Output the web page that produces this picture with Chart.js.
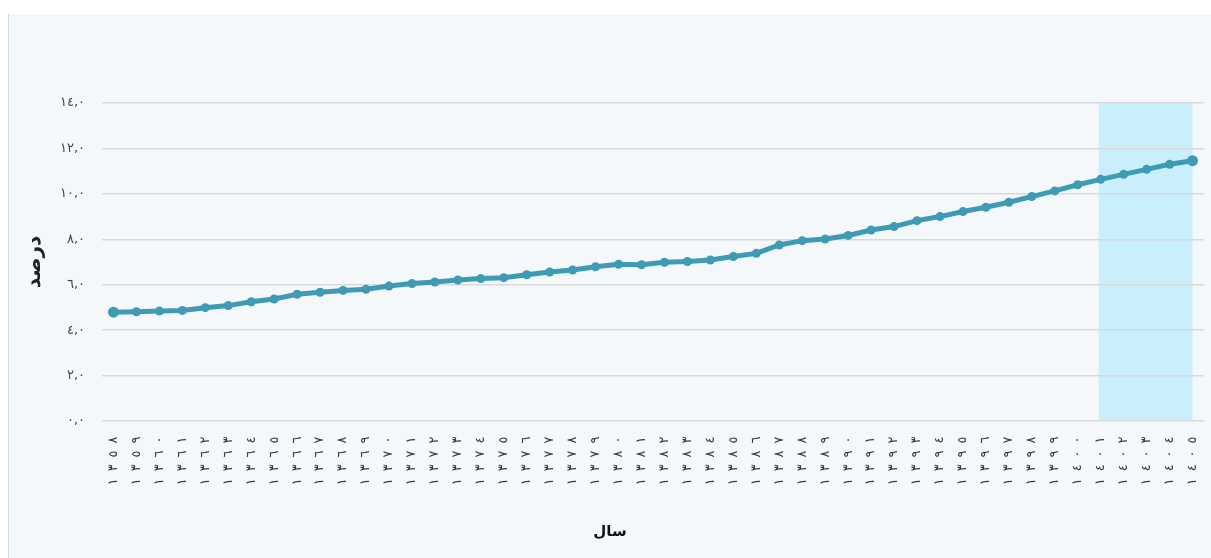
<!DOCTYPE html>
<html><head><meta charset="utf-8">
<script src="https://cdn.jsdelivr.net/npm/chart.js@4"></script>
<style>html,body{margin:0;padding:0;background:#fff;overflow:hidden}#c{display:block}</style>
</head><body>
<canvas id="c" width="1211" height="558"></canvas>
<script>
// ---- data ----
const years = [1358,1359,1360,1361,1362,1363,1364,1365,1366,1367,1368,1369,1370,1371,1372,1373,1374,1375,1376,1377,1378,1379,1380,1381,1382,1383,1384,1385,1386,1387,1388,1389,1390,1391,1392,1393,1394,1395,1396,1397,1398,1399,1400,1401,1402,1403,1404,1405];
const values = [4.79,4.81,4.84,4.87,4.99,5.08,5.25,5.37,5.58,5.67,5.75,5.80,5.94,6.05,6.12,6.21,6.27,6.31,6.44,6.56,6.65,6.79,6.90,6.88,6.99,7.02,7.09,7.24,7.38,7.75,7.94,8.01,8.17,8.41,8.56,8.82,9.00,9.22,9.41,9.63,9.88,10.13,10.40,10.64,10.86,11.08,11.30,11.46];
const yTickValues = [0,2,4,6,8,10,12,14];
const highlightFrom = 1401;
const highlightTo = 1405;
const xTitle = 'سال';
const yTitle = 'درصد';

const AR = '٠١٢٣٤٥٦٧٨٩';
const toFa = s => String(s).replace(/[0-9]/g, d => AR[+d]);
const xLabels = years.map(y => toFa(y));

const LINE = '#3f9ab4';
const FONT = "'DejaVu Sans'";

const bgPlugin = {
  id: 'bg',
  beforeDraw(chart) {
    const ctx = chart.ctx;
    ctx.save();
    ctx.fillStyle = '#ffffff';
    ctx.fillRect(0, 0, chart.width, chart.height);
    ctx.fillStyle = '#f4f8fb';
    ctx.fillRect(9, 14, chart.width - 9, chart.height - 14);
    ctx.strokeStyle = '#cbdaea';
    ctx.lineWidth = 1;
    ctx.beginPath(); ctx.moveTo(8.5, 14); ctx.lineTo(8.5, chart.height); ctx.stroke();
    // highlighted forecast band
    const xs = chart.scales.x, ys = chart.scales.y;
    const x1 = xs.getPixelForValue(years.indexOf(highlightFrom)) - 2;
    const x2 = xs.getPixelForValue(years.indexOf(highlightTo));
    const yTop = ys.getPixelForValue(yTickValues[yTickValues.length - 1]);
    const yBot = ys.getPixelForValue(yTickValues[0]);
    ctx.fillStyle = '#c9eefc';
    ctx.fillRect(x1, yTop, x2 - x1, yBot - yTop);
    ctx.restore();
  },
  afterDraw(chart) {
    const ctx = chart.ctx;
    const xs = chart.scales.x;
    const step = 13.9;
    const firstCenter = xs.top + 19;
    ctx.save();
    ctx.fillStyle = '#3a3a3a';
    ctx.font = '13px ' + FONT;
    ctx.textAlign = 'center';
    ctx.textBaseline = 'middle';
    xLabels.forEach((lab, i) => {
      const x = xs.getPixelForValue(i);
      const chars = Array.from(lab);
      const n = chars.length;
      chars.forEach((ch, k) => {
        ctx.save();
        ctx.translate(x, firstCenter + (n - 1 - k) * step);
        ctx.rotate(-Math.PI / 2);
        ctx.fillText(ch, 0, 0);
        ctx.restore();
      });
    });
    ctx.font = 'bold 15px ' + FONT;
    ctx.fillStyle = '#111';
    ctx.fillText(xTitle, 610, 532);
    ctx.restore();
  }
};

new Chart(document.getElementById('c'), {
  type: 'line',
  data: {
    labels: xLabels,
    datasets: [{
      data: values,
      borderColor: LINE,
      backgroundColor: LINE,
      borderWidth: 5,
      pointRadius: ctx => (ctx.dataIndex === 0 || ctx.dataIndex === values.length - 1) ? 5.5 : 4.5,
      pointBackgroundColor: LINE,
      pointBorderColor: LINE,
      pointBorderWidth: 0,
      tension: 0
    }]
  },
  options: {
    responsive: false,
    animation: false,
    devicePixelRatio: 1,
    layout: { padding: { top: 103, right: 7, left: 0, bottom: 0 } },
    plugins: { legend: { display: false }, tooltip: { enabled: false } },
    scales: {
      x: {
        offset: true,
        grid: { display: false },
        border: { display: false },
        ticks: { display: false },
        afterFit: s => { s.height = 137; }
      },
      y: {
        min: 0, max: 14,
        afterBuildTicks: s => { s.ticks = yTickValues.map(v => ({ value: v })); },
        grid: { color: '#d9d9d9', lineWidth: 1.5, drawTicks: false },
        border: { display: false },
        ticks: {
          padding: 17,
          color: '#444',
          font: { family: FONT, size: 13 },
          callback: v => toFa(Number(v).toFixed(1).replace('.', ','))
        },
        title: {
          display: true, text: yTitle, color: '#222',
          font: { family: FONT, size: 20, weight: 'bold' },
          padding: { top: 23, bottom: 0 }
        },
        afterFit: s => { s.width = 102; }
      }
    }
  },
  plugins: [bgPlugin]
});
</script>
</body></html>
